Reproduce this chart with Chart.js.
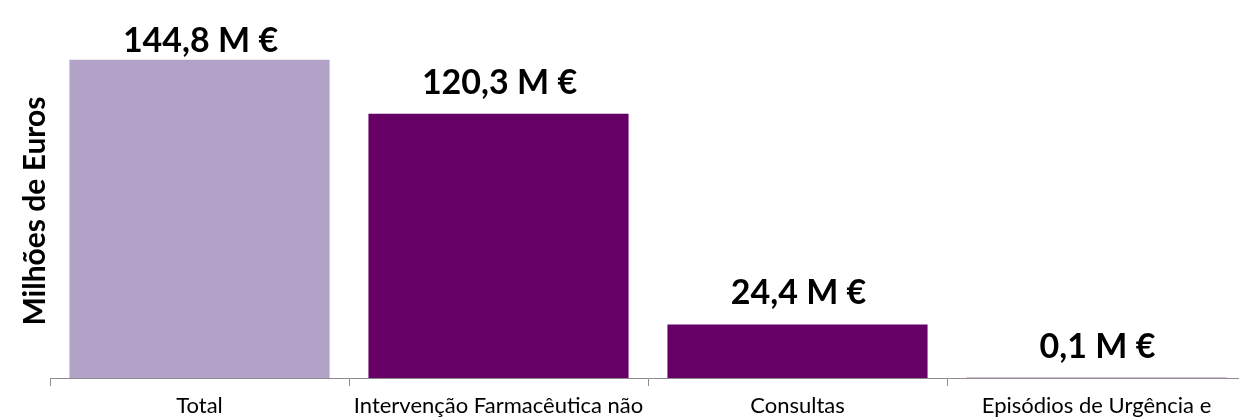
<!DOCTYPE html>
<html>
<head>
<meta charset="utf-8">
<script src="https://cdn.jsdelivr.net/npm/chart.js@4/dist/chart.umd.min.js"></script>
<style>
  html, body { margin: 0; padding: 0; background: #ffffff; overflow: hidden; }
  body { width: 1239px; height: 420px; }
  #wrap { position: absolute; left: 0; top: 0; width: 1260px; height: 460px; }
</style>
</head>
<body>
<div id="wrap"><canvas id="c" width="1260" height="460"></canvas></div>
<script>
const categories = [
  ["Total"],
  ["Intervenção Farmacêutica não", "Sujeita a Receita Médica"],
  ["Consultas"],
  ["Episódios de Urgência e", "Internamento"]
];
const values = [144.8, 120.3, 24.4, 0.1];
const valueLabels = ["144,8 M €", "120,3 M €", "24,4 M €", "0,1 M €"];
const yAxisTitle = "Milhões de Euros";
const barColors = ["#b3a2c7", "#660066", "#660066", "#660066"];

const valueLabelPlugin = {
  id: 'valueLabels',
  afterDatasetsDraw(chart) {
    const ctx = chart.ctx;
    const meta = chart.getDatasetMeta(0);
    ctx.save();
    ctx.font = "bold 34px Lato";
    ctx.fillStyle = "#000000";
    ctx.textAlign = "center";
    ctx.textBaseline = "alphabetic";
    meta.data.forEach((bar, i) => {
      const y = Math.max(bar.y - 20, chart.chartArea.top + 8);
      ctx.fillText(valueLabels[i], bar.x + 1, y);
    });
    ctx.restore();
  }
};

new Chart(document.getElementById('c'), {
  type: 'bar',
  data: {
    labels: categories,
    datasets: [{
      data: values,
      backgroundColor: barColors,
      borderWidth: 0,
      categoryPercentage: 1.0,
      barPercentage: 0.87
    }]
  },
  options: {
    responsive: false,
    animation: false,
    events: [],
    layout: { padding: { top: 44, right: 14, left: 0, bottom: 0 } },
    plugins: { legend: { display: false }, tooltip: { enabled: false } },
    scales: {
      x: {
        afterFit(scale) { scale.height = 82; },
        border: { display: true, color: '#8c8c8c', width: 1 },
        grid: { display: true, offset: true, drawOnChartArea: false, drawTicks: true, tickLength: 8, color: '#8c8c8c' },
        ticks: { color: '#000000', font: { family: 'Lato', size: 22 }, padding: 7, maxRotation: 0, autoSkip: false }
      },
      y: {
        min: 0,
        max: 152,
        afterFit(scale) { scale.width = 50; },
        border: { display: false },
        grid: { display: false },
        ticks: { display: false },
        title: {
          display: true,
          text: yAxisTitle,
          color: '#000000',
          font: { family: 'Lato', size: 30, weight: 'bold' },
          padding: { top: 17, bottom: 0 }
        }
      }
    }
  },
  plugins: [valueLabelPlugin]
});
</script>
</body>
</html>
